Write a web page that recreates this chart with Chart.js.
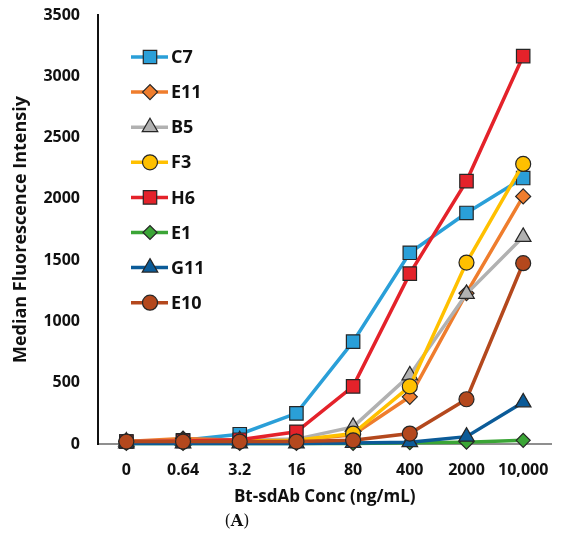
<!DOCTYPE html>
<html>
<head>
<meta charset="utf-8">
<script src="https://cdn.jsdelivr.net/npm/chart.js@4.4.0/dist/chart.umd.min.js"></script>
<style>
  html, body { margin: 0; padding: 0; background: #fff; }
  #wrap { position: relative; width: 566px; height: 544px; }
</style>
</head>
<body>
<div id="wrap"><canvas id="mfiChart" width="566" height="544"></canvas></div>
<script>
// concentrations (ng/mL), plotted as evenly spaced categories
var concLabels = ['0', '0.64', '3.2', '16', '80', '400', '2000', '10,000'];
var yTicks = [0, 500, 1000, 1500, 2000, 2500, 3000, 3500];

// median fluorescence intensity per clone
var c7  = [20, 30, 80, 250, 835, 1560, 1885, 2170];
var e11 = [20, 45, 30, 30, 75, 385, 1230, 2020];
var b5  = [20, 25, 30, 40, 140, 560, 1225, 1690];
var f3  = [20, 20, 25, 30, 85, 470, 1480, 2285];
var h6  = [20, 25, 35, 100, 470, 1390, 2145, 3165];
var e1  = [5, 5, 5, 5, 5, 10, 15, 30];
var g11 = [5, 5, 5, 5, 8, 15, 60, 340];
var e10 = [20, 20, 20, 20, 30, 85, 365, 1475];

var FONT = "'Open Sans', 'Liberation Sans', sans-serif";
var SERIF = "'DejaVu Serif', 'Liberation Serif', serif";
var EDGE = '#262626';

function series(label, data, color, style, r) {
  return {
    label: label,
    data: data,
    borderColor: color,
    backgroundColor: color,
    borderWidth: 3.5,
    pointStyle: style,
    pointRadius: r,
    pointHoverRadius: r,
    pointBackgroundColor: color,
    pointBorderColor: EDGE,
    pointBorderWidth: 1.2,
    tension: 0,
    clip: false
  };
}

var datasets = [
  series('C7', c7, '#2a9fd8', 'rect', 9.5),
  series('E11', e11, '#ef7d2d', 'rectRot', 7.5),
  series('B5', b5, '#b1b1b1', 'triangle', 9),
  series('F3', f3, '#ffc000', 'circle', 7.5),
  series('H6', h6, '#e4222a', 'rect', 9.5),
  series('E1', e1, '#3ba536', 'rectRot', 7),
  series('G11', g11, '#0b5b98', 'triangle', 9),
  series('E10', e10, '#b4481d', 'circle', 7.5)
];
// later series are drawn on top, like the original
datasets.forEach(function (d, i) { d.order = datasets.length - i; });

// legend inside the plot, drawn by hand
var innerLegend = {
  id: 'innerLegend',
  afterDraw: function (chart) {
    var ctx = chart.ctx;
    var y0 = 57, step = 35.1;
    ctx.save();
    datasets.forEach(function (d, i) {
      var y = y0 + i * step;
      ctx.beginPath();
      ctx.strokeStyle = d.borderColor;
      ctx.lineWidth = 3.5;
      ctx.moveTo(131, y);
      ctx.lineTo(168, y);
      ctx.stroke();
      ctx.fillStyle = d.pointBackgroundColor;
      ctx.strokeStyle = EDGE;
      ctx.lineWidth = 1.2;
      Chart.helpers.drawPoint(ctx, {
        pointStyle: d.pointStyle, radius: d.pointRadius, rotation: 0, borderWidth: 1.2
      }, 150, y);
      ctx.fillStyle = '#111';
      ctx.font = 'bold 18px ' + FONT;
      ctx.textAlign = 'left';
      ctx.textBaseline = 'middle';
      ctx.fillText(d.label, 171, y + 1);
    });
    // panel caption "(A)": plain brackets, bold letter
    ctx.fillStyle = '#111';
    ctx.textBaseline = 'middle';
    ctx.textAlign = 'left';
    ctx.font = '16px ' + SERIF;
    var wp = ctx.measureText('(').width;
    ctx.font = 'bold 16px ' + SERIF;
    var wa = ctx.measureText('A').width;
    var x = 237 - (2 * wp + wa) / 2;
    ctx.font = '16px ' + SERIF;
    ctx.fillText('(', x, 522);
    ctx.fillText(')', x + wp + wa, 522);
    ctx.font = 'bold 16px ' + SERIF;
    ctx.fillText('A', x + wp, 522);
    ctx.restore();
  }
};

new Chart(document.getElementById('mfiChart').getContext('2d'), {
  type: 'line',
  data: { labels: concLabels, datasets: datasets },
  options: {
    responsive: false,
    animation: false,
    events: [],
    layout: { padding: { top: 15, right: 0, bottom: 30, left: 0 } },
    plugins: { legend: { display: false }, tooltip: { enabled: false } },
    scales: {
      x: {
        offset: true,
        grid: { display: false, drawTicks: false },
        border: { display: true, color: '#8f8f8f', width: 2 },
        ticks: { color: '#111', padding: 17, maxRotation: 0, autoSkip: false,
                 font: { family: FONT, size: 16, weight: 'bold' } },
        title: { display: true, text: 'Bt-sdAb Conc (ng/mL)', color: '#111',
                 padding: { top: 4, bottom: 7 },
                 font: { family: FONT, size: 17, weight: 'bold' } },
        afterFit: function (s) { s.height = 70; }
      },
      y: {
        min: 0,
        max: 3500,
        afterBuildTicks: function (s) { s.ticks = yTicks.map(function (v) { return { value: v }; }); },
        grid: { display: false, drawTicks: false },
        border: { display: true, color: '#111', width: 2 },
        ticks: { color: '#111', padding: 18,
                 callback: function (v) { return String(v); },
                 font: { family: FONT, size: 16, weight: 'bold' } },
        title: { display: true, text: 'Median Fluorescence Intensiy', color: '#111',
                 padding: { top: 10, bottom: 0 },
                 font: { family: FONT, size: 18, weight: 'bold' } },
        afterFit: function (s) {
          s.width = 98;
          s.paddingTop = 0;
          s.paddingBottom = 0;
        }
      }
    }
  },
  plugins: [innerLegend]
});
</script>
</body>
</html>
